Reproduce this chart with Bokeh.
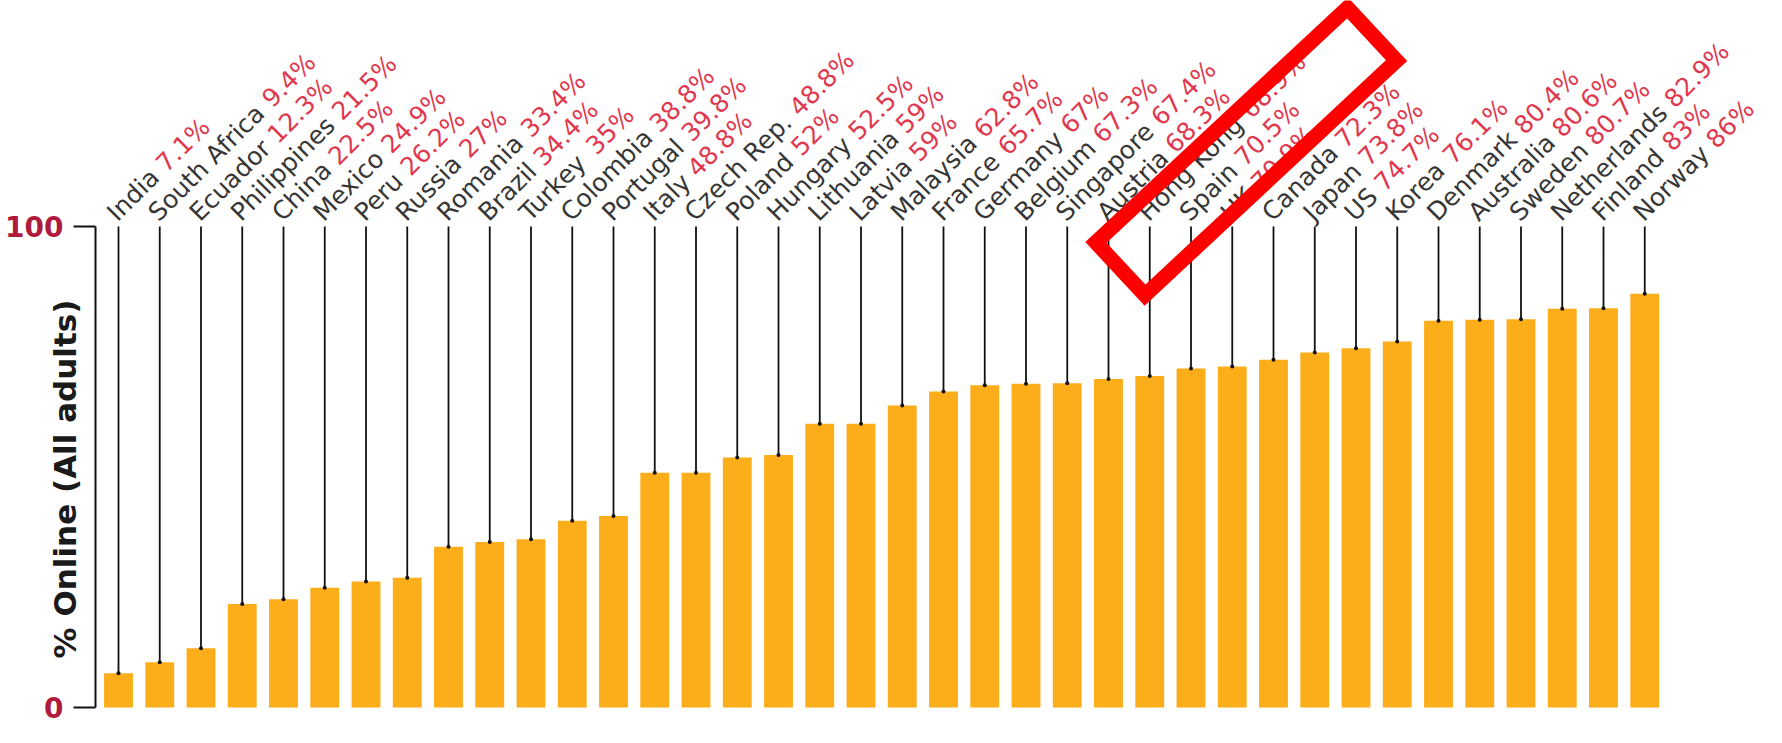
import math
from bokeh.plotting import figure
from bokeh.models import ColumnDataSource, Range1d, FixedTicker
from bokeh.core.properties import value
from bokeh.embed import file_html
from bokeh.resources import INLINE

# ---- data ----
countries = ["India", "South Africa", "Ecuador", "Philippines", "China", "Mexico", "Peru",
             "Russia", "Romania", "Brazil", "Turkey", "Colombia", "Portugal", "Italy",
             "Czech Rep.", "Poland", "Hungary", "Lithuania", "Latvia", "Malaysia", "France",
             "Germany", "Belgium", "Singapore", "Austria", "Hong Kong", "Spain", "UK",
             "Canada", "Japan", "US", "Korea", "Denmark", "Australia", "Sweden",
             "Netherlands", "Finland", "Norway"]
online_pct = [7.1, 9.4, 12.3, 21.5, 22.5, 24.9, 26.2, 27, 33.4, 34.4, 35, 38.8, 39.8, 48.8,
              48.8, 52, 52.5, 59, 59, 62.8, 65.7, 67, 67.3, 67.4, 68.3, 68.9, 70.5, 70.9,
              72.3, 73.8, 74.7, 76.1, 80.4, 80.6, 80.7, 82.9, 83, 86]
y_ticks = [0, 100]
y_title = "% Online (All adults)"
highlight = "UK"

# ---- layout constants (pixels) ----
W, H = 1766, 727
Y100 = 226                      # canvas y of the 100 line
Y0 = 707                        # canvas y of the 0 line
PX_Y = (Y0 - Y100) / 100        # px per percentage point
PX_X = 41.25                    # px per category
FIRST_X = 118                   # canvas x of the first bar centre
AXIS_X = 95                     # canvas x of the y axis line
TITLE_X = 64                    # canvas x of the y title centre
X0 = -FIRST_X / PX_X
LABEL_FS = 25
ANG = math.radians(45)

# DejaVu Sans advance widths (em)
ADV = {' ': .318, '%': .950, '.': .318, 'A': .684, 'B': .686, 'C': .698, 'D': .770, 'E': .632,
       'F': .575, 'G': .775, 'H': .752, 'I': .295, 'J': .295, 'K': .656, 'L': .557, 'M': .863,
       'N': .748, 'O': .787, 'P': .603, 'R': .695, 'S': .635, 'T': .611, 'U': .732, 'V': .684,
       'W': .989, 'Y': .611, 'Z': .685, 'a': .613, 'b': .635, 'c': .550, 'd': .635, 'e': .615,
       'f': .352, 'g': .635, 'h': .634, 'i': .278, 'j': .278, 'k': .579, 'l': .278, 'm': .974,
       'n': .634, 'o': .612, 'p': .635, 'q': .635, 'r': .411, 's': .521, 't': .392, 'u': .634,
       'v': .592, 'w': .818, 'x': .592, 'y': .592, 'z': .525}
for d in "0123456789":
    ADV[d] = .636

def text_w(s):
    return sum(ADV.get(c, .6) for c in s) * LABEL_FS

xs = list(range(len(countries)))
lab_y = 100 + 10 / PX_Y
val_text = [f"{v:g}%" for v in online_pct]
shift = [text_w(c + " ") for c in countries]
val_x = [i + s * math.cos(ANG) / PX_X for i, s in zip(xs, shift)]
val_y = [lab_y + s * math.sin(ANG) / PX_Y for s in shift]

src = ColumnDataSource(dict(x=xs, v=online_pct, top=[100] * len(xs), name=countries,
                            ly=[lab_y] * len(xs), vt=val_text, vx=val_x, vy=val_y))

p = figure(width=W, height=H, output_backend="svg", toolbar_location=None,
           x_range=Range1d(X0, X0 + W / PX_X),
           y_range=Range1d(-(H - Y0) / PX_Y, Y0 / PX_Y),
           x_axis_location=None, y_axis_location="left",
           min_border_left=0, min_border_right=0, min_border_top=0, min_border_bottom=0)
p.outline_line_color = None
p.grid.visible = False
p.background_fill_color = "white"
p.border_fill_color = "white"

ax = p.yaxis[0]
ax.fixed_location = X0 + AXIS_X / PX_X
ax.ticker = FixedTicker(ticks=y_ticks)
ax.bounds = (0, 100)
ax.axis_line_width = 2
ax.axis_line_color = "#111111"
ax.major_tick_line_width = 2
ax.major_tick_line_color = "#111111"
ax.major_tick_out = 22
ax.major_tick_in = 0
ax.minor_tick_out = 0
ax.minor_tick_in = 0
ax.major_label_standoff = 10
ax.major_label_text_font = "DejaVu Sans"
ax.major_label_text_font_style = "bold"
ax.major_label_text_font_size = "28px"
ax.major_label_text_color = "#b01a3c"

p.vbar(x="x", top="v", bottom=0, width=0.70, source=src, fill_color="#fcae1a",
       line_color=None)
p.segment(x0="x", y0="v", x1="x", y1="top", source=src, line_color="#111111", line_width=1.8)
p.scatter(x="x", y="v", source=src, size=4, fill_color="#111111", line_color=None)

p.text(x="x", y="ly", text="name", source=src, angle=ANG, x_offset=-7,
       text_font=value("DejaVu Sans"), text_font_size=f"{LABEL_FS}px",
       text_color="#363636", text_align="left", text_baseline="alphabetic")
p.text(x="vx", y="vy", text="vt", source=src, angle=ANG, x_offset=-7,
       text_font=value("DejaVu Sans"), text_font_size=f"{LABEL_FS}px",
       text_color="#e0384e", text_align="left", text_baseline="alphabetic")

# y-axis title, drawn inside the frame to the left of the fixed-location axis
p.text(x=[X0 + TITLE_X / PX_X], y=[47.5], text=[y_title], angle=math.pi / 2,
       text_font=value("DejaVu Sans"), text_font_style="bold", text_font_size="31px",
       text_color="#1a1a1a", text_align="center", text_baseline="middle")

# red highlight box around the highlighted label
hi = countries.index(highlight)
cx, cy = 14.0, 75.0             # px offset of box centre from the stem top
L, S, a = 172.0, 36.0, math.radians(43)
u = (math.cos(a), math.sin(a))
vv = (-math.sin(a), math.cos(a))
corners = [(cx + sl * L * u[0] + ss * S * vv[0], cy + sl * L * u[1] + ss * S * vv[1])
           for sl, ss in [(1, 1), (1, -1), (-1, -1), (-1, 1)]]
bx = [hi + c[0] / PX_X for c in corners]
by = [100 + c[1] / PX_Y for c in corners]
p.patch(bx, by, fill_color=None, line_color="#ff0000", line_width=15, line_join="miter")

open("out.html", "w").write(file_html(p, INLINE))
